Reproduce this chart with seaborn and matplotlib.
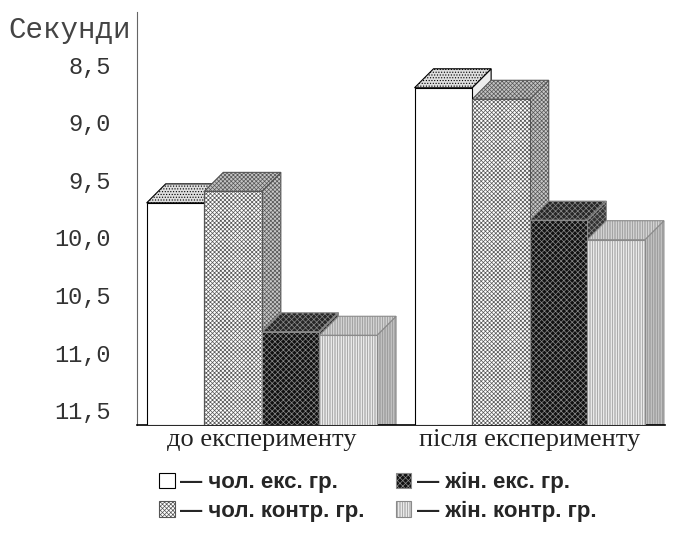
import numpy as np
import pandas as pd
import matplotlib
matplotlib.use("Agg")
import matplotlib.pyplot as plt
import seaborn as sns
from matplotlib.patches import Polygon, Patch

# ---- data ----
periods = ["до експерименту", "після експерименту"]
groups = ["чол. екс. гр.", "чол. контр. гр.", "жін. екс. гр.", "жін. контр. гр."]
before = [9.7, 9.6, 10.82, 10.85]
after = [8.7, 8.8, 9.85, 10.02]
y_ticks = [8.5, 9.0, 9.5, 10.0, 10.5, 11.0, 11.5]
y_tick_labels = ["8,5", "9,0", "9,5", "10,0", "10,5", "11,0", "11,5"]
y_label = "Секунди"

# axis range (inverted time axis: bars grow upward towards faster times)
BASE = 11.63
TOP = 8.04

rows = []
for g, b, a in zip(groups, before, after):
    rows.append({"period": periods[0], "group": g, "seconds": b})
    rows.append({"period": periods[1], "group": g, "seconds": a})
df = pd.DataFrame(rows)
df["h"] = BASE - df["seconds"]

sns.set_theme(style="white")
MONO = ["Liberation Mono", "DejaVu Sans Mono"]
SERIF = ["Liberation Serif", "DejaVu Serif"]
plt.rcParams["font.family"] = MONO
plt.rcParams["hatch.linewidth"] = 0.5

fig = plt.figure(figsize=(6.99, 5.36), dpi=100)
ax = fig.add_axes([0.196, 0.207, 0.755, 0.771])

face = ["white", "white", "#111111", "white"]
edge = ["black", "#555555", "#8a8a8a", "#8a8a8a"]
hatch = [None, "xxxxxxxx", "xxxxxx", "||||||||||"]

sns.barplot(data=df, x="period", y="h", hue="group", order=periods,
            hue_order=groups, width=0.86, palette=face, saturation=1,
            edgecolor="black", linewidth=0.8, legend=False, ax=ax, zorder=3)

ax.set_xlim(-0.466, 1.504)
ax.set_ylim(0, BASE - TOP)

# style front faces
for i, cont in enumerate(ax.containers):
    for bar in cont:
        bar.set_facecolor(face[i])
        bar.set_edgecolor(edge[i])
        if hatch[i]:
            bar.set_hatch(hatch[i])
        bar.set_zorder(10)

# 3D depth faces derived from the bar geometry
fig.canvas.draw()
inv = ax.transData.inverted()
p0 = inv.transform(ax.transData.transform((0, 0)))
p1 = inv.transform(ax.transData.transform((0, 0)) + np.array([19, 19]))
dx, dy = p1 - p0

top_face = ["#dedede", "#c4c4c4", "#262626", "#e2e2e2"]
side_face = ["#eeeeee", "#c8c8c8", "#333333", "#cccccc"]
side_hatch = [None, "xxxxxxxx", "xxxxxx", "||||||||||"]
top_hatch = ["......", "xxxxxxxx", "xxxxxx", "||||||||||"]

bars_by_pos = []
for i, cont in enumerate(ax.containers):
    for bar in cont:
        bars_by_pos.append((bar.get_x(), i, bar))
bars_by_pos.sort(key=lambda t: t[0])
z = 2
for _, i, bar in bars_by_pos:
    x0, w, h = bar.get_x(), bar.get_width(), bar.get_height()
    side = Polygon([(x0 + w, 0), (x0 + w, h), (x0 + w + dx, h + dy), (x0 + w + dx, 0)],
                   closed=True, facecolor=side_face[i], edgecolor=edge[i],
                   hatch=side_hatch[i], linewidth=0.8, zorder=z)
    ax.add_patch(side)
    z += 0.01
    top = Polygon([(x0, h), (x0 + w, h), (x0 + w + dx, h + dy), (x0 + dx, h + dy)],
                  closed=True, facecolor=top_face[i], edgecolor=edge[i],
                  hatch=top_hatch[i], linewidth=0.8, zorder=z)
    ax.add_patch(top)
    z += 0.01

# axes styling
ax.set_yticks([BASE - t for t in y_ticks])
ax.set_yticklabels(y_tick_labels, fontsize=17, color="#333333")
ax.tick_params(axis="y", length=0, pad=19)
ax.tick_params(axis="x", length=0, pad=3)
ax.set_xticks(ax.get_xticks())
ax.set_xticklabels(periods, fontsize=19, family=SERIF, color="#222222")
ax.set_xlabel("")
ax.set_ylabel("")
for s in ["top", "right"]:
    ax.spines[s].set_visible(False)
ax.spines["left"].set_color("#666666")
ax.spines["left"].set_linewidth(0.8)
ax.spines["bottom"].set_color("black")
ax.spines["bottom"].set_linewidth(1.2)

fig.text(0.012, 1 - 30 / 536, y_label, fontsize=21, color="#444444",
         ha="left", va="center")

# legend
handles = [Patch(facecolor=face[i], edgecolor=edge[i] if i else "black",
                 hatch=hatch[i], linewidth=0.8) for i in range(4)]
labels = ["— " + g for g in groups]
fig.legend(handles, labels, loc="center left",
           bbox_to_anchor=(139 / 699, 1 - 497 / 536), ncol=2, frameon=False,
           handlelength=0.7, handleheight=0.7, handletextpad=0.25,
           columnspacing=1.4, labelspacing=0.35,
           prop={"family": ["Liberation Sans", "DejaVu Sans"],
                 "weight": "bold", "size": 16})

fig.savefig("out.png", dpi=100)
